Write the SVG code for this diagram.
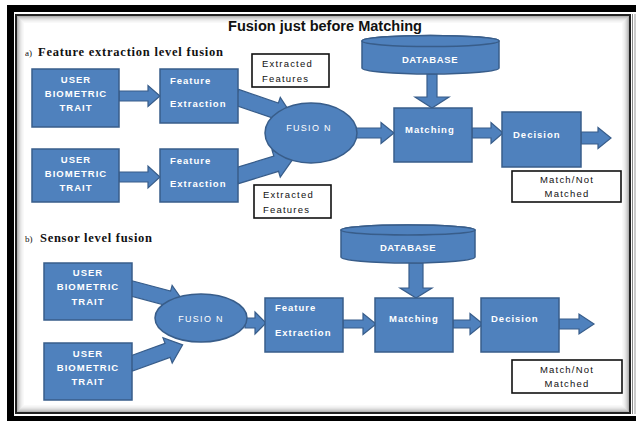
<svg xmlns="http://www.w3.org/2000/svg" width="636" height="421" viewBox="0 0 636 421">
  <defs>
    <style>
      .blk { fill: #4F81BD; stroke: #385D8A; stroke-width: 1.5; }
      .arr { fill: #4F81BD; stroke: #385D8A; stroke-width: 1.2; stroke-linejoin: miter; }
      .lbl { fill: none; stroke: #111; stroke-width: 1.6; }
      .wt { font-family: "Liberation Sans", Arial, sans-serif; font-weight: bold; font-size: 9.5px; fill: #fff; letter-spacing: 1px; }
      .wr { font-family: "Liberation Sans", Arial, sans-serif; font-size: 9px; fill: #fff; letter-spacing: 1.3px; }
      .bt { font-family: "Liberation Sans", Arial, sans-serif; font-size: 9.5px; fill: #111; letter-spacing: 1.2px; }
      .hd { font-family: "Liberation Serif", "Times New Roman", serif; font-weight: bold; font-size: 12.5px; fill: #111; }
      .sm { font-family: "Liberation Serif", "Times New Roman", serif; font-size: 9px; fill: #111; }
      .ti { font-family: "Liberation Sans", Arial, sans-serif; font-weight: bold; font-size: 14px; fill: #111; }
      .c { text-anchor: middle; }
    </style>
  </defs>

  <!-- page and picture frame -->
  <rect x="0" y="0" width="636" height="421" fill="#fff"/>
  <rect x="7" y="5" width="629" height="7" fill="#000"/>
  <rect x="7" y="5" width="7" height="416" fill="#000"/>
  <rect x="7" y="416" width="629" height="5" fill="#000"/>
  <g fill="none" stroke="#000">
    <rect x="632" y="14" width="1" height="400" stroke="none" fill="#888"/>
    <rect x="634" y="14" width="2" height="400" stroke="none" fill="#ccc"/>
  </g>
  <!-- inner soft edge of the frame -->
  <g fill="none" stroke="#000" stroke-width="1">
    <rect x="17.5" y="16.5" width="611" height="395" opacity="0.30"/>
    <rect x="18.5" y="17.5" width="609" height="393" opacity="0.22"/>
    <rect x="19.5" y="18.5" width="607" height="391" opacity="0.16"/>
    <rect x="20.5" y="19.5" width="605" height="389" opacity="0.11"/>
    <rect x="21.5" y="20.5" width="603" height="387" opacity="0.07"/>
    <rect x="22.5" y="21.5" width="601" height="385" opacity="0.045"/>
    <rect x="23.5" y="22.5" width="599" height="383" opacity="0.025"/>
  </g>
  <rect x="16" y="15" width="614" height="398" fill="none" stroke="#222" stroke-width="2"/>

  <!-- headings -->
  <text class="ti" x="228" y="31" textLength="194" lengthAdjust="spacingAndGlyphs">Fusion just before Matching</text>
  <text class="sm" x="25" y="56">a)</text>
  <text class="hd" x="38" y="56" textLength="185" lengthAdjust="spacing">Feature extraction level fusion</text>
  <text class="sm" x="25" y="242">b)</text>
  <text class="hd" x="40" y="242" textLength="112" lengthAdjust="spacing">Sensor level fusion</text>

  <!-- connectors -->
  <g id="connectors">
    <!-- a) feature extraction level fusion -->
    <polygon class="arr" points="119,91 148,91 148,85.5 160,96 148,106.5 148,101 119,101"/>
    <polygon class="arr" points="119,172 148,172 148,166 160,177 148,188 148,182 119,182"/>
    <polygon class="arr" transform="translate(236,97) rotate(19)" points="0,-8 42,-8 42,-14 60,0 42,14 42,8 0,8"/>
    <polygon class="arr" transform="translate(236,176) rotate(-17)" points="0,-8 42,-8 42,-14 60,0 42,14 42,8 0,8"/>
    <polygon class="arr" points="356,128 381,128 381,122.5 394,133 381,143.5 381,138 356,138"/>
    <polygon class="arr" points="427,74 437,74 437,97 449,97 432,108 415,97 427,97"/>
    <polygon class="arr" points="472,128 491,128 491,122.5 503,133 491,143.5 491,138 472,138"/>
    <polygon class="arr" points="581,132 598,132 598,127.5 611,138 598,148.5 598,144 581,144"/>

    <!-- b) sensor level fusion -->
    <polygon class="arr" transform="translate(130,288) rotate(15)" points="0,-7.5 40,-7.5 40,-13.5 56,0 40,13.5 40,7.5 0,7.5"/>
    <polygon class="arr" transform="translate(130,364) rotate(-20)" points="0,-7.5 40,-7.5 40,-13.5 56,0 40,13.5 40,7.5 0,7.5"/>
    <polygon class="arr" points="245,318 255,318 255,312 266,323 255,334 255,328 245,328"/>
    <polygon class="arr" points="343,320 363,320 363,313.5 376,324 363,334.5 363,328 343,328"/>
    <polygon class="arr" points="409,263 423,263 423,288 432,288 416,298 400,288 409,288"/>
    <polygon class="arr" points="453,320 470,320 470,313.5 483,324 470,334.5 470,328 453,328"/>
    <polygon class="arr" points="559,319 579,319 579,314 594,324 579,334 579,329 559,329"/>
  </g>

  <!-- a) nodes -->
  <g id="user-a1">
    <rect class="blk" x="32" y="69" width="87" height="58"/>
    <text class="wt c" x="76" y="83">USER</text>
    <text class="wt c" x="76" y="97">BIOMETRIC</text>
    <text class="wt c" x="76" y="111">TRAIT</text>
  </g>
  <g id="user-a2">
    <rect class="blk" x="32" y="149" width="87" height="53"/>
    <text class="wt c" x="76" y="163">USER</text>
    <text class="wt c" x="76" y="177">BIOMETRIC</text>
    <text class="wt c" x="76" y="191">TRAIT</text>
  </g>
  <g id="feature-a1">
    <rect class="blk" x="160" y="69" width="78" height="54"/>
    <text class="wt" x="170" y="84">Feature</text>
    <text class="wt" x="170" y="107">Extraction</text>
  </g>
  <g id="feature-a2">
    <rect class="blk" x="160" y="149" width="78" height="53"/>
    <text class="wt" x="170" y="164">Feature</text>
    <text class="wt" x="170" y="187">Extraction</text>
  </g>
  <g id="extracted-a1">
    <rect class="lbl" x="252" y="54" width="77" height="33"/>
    <text class="bt" x="262" y="67">Extracted</text>
    <text class="bt" x="262" y="82">Features</text>
  </g>
  <g id="extracted-a2">
    <rect class="lbl" x="254" y="185" width="77" height="33"/>
    <text class="bt" x="263" y="198">Extracted</text>
    <text class="bt" x="263" y="213">Features</text>
  </g>
  <g id="fusion-a">
    <ellipse class="blk" cx="311" cy="133" rx="46" ry="30"/>
    <text class="wr c" x="309" y="131">FUSIO N</text>
  </g>
  <g id="database-a">
    <path class="blk" d="M362,41 A68.5,5.5 0 0 1 499,41 L499,68 A68.5,6 0 0 1 362,68 Z"/>
    <ellipse class="blk" cx="430.5" cy="41" rx="68.5" ry="5.5"/>
    <text class="wt c" x="430" y="63" style="letter-spacing:0.6px">DATABASE</text>
  </g>
  <g id="matching-a">
    <rect class="blk" x="394" y="108" width="78" height="54"/>
    <text class="wt" x="405" y="133">Matching</text>
  </g>
  <g id="decision-a">
    <rect class="blk" x="502" y="112" width="79" height="55"/>
    <text class="wt" x="513" y="138">Decision</text>
  </g>
  <g id="result-a">
    <rect class="lbl" x="512" y="171" width="109" height="31" stroke-width="2"/>
    <text class="bt c" x="567" y="183">Match/Not</text>
    <text class="bt c" x="567" y="197">Matched</text>
  </g>

  <!-- b) nodes -->
  <g id="user-b1">
    <rect class="blk" x="44" y="263" width="88" height="57"/>
    <text class="wt c" x="88" y="276">USER</text>
    <text class="wt c" x="88" y="290">BIOMETRIC</text>
    <text class="wt c" x="88" y="305">TRAIT</text>
  </g>
  <g id="user-b2">
    <rect class="blk" x="44" y="343" width="88" height="57"/>
    <text class="wt c" x="88" y="357">USER</text>
    <text class="wt c" x="88" y="371">BIOMETRIC</text>
    <text class="wt c" x="88" y="385">TRAIT</text>
  </g>
  <g id="fusion-b">
    <ellipse class="blk" cx="201" cy="318" rx="46" ry="24"/>
    <text class="wr c" x="201" y="322">FUSIO N</text>
  </g>
  <g id="feature-b">
    <rect class="blk" x="265" y="298" width="78" height="54"/>
    <text class="wt" x="275" y="311">Feature</text>
    <text class="wt" x="275" y="336">Extraction</text>
  </g>
  <g id="database-b">
    <path class="blk" d="M341,230 A67,5 0 0 1 475,230 L475,257 A67,6 0 0 1 341,257 Z"/>
    <ellipse class="blk" cx="408" cy="230" rx="67" ry="5"/>
    <text class="wt c" x="408" y="251" style="letter-spacing:0.6px">DATABASE</text>
  </g>
  <g id="matching-b">
    <rect class="blk" x="375" y="298" width="78" height="54"/>
    <text class="wt" x="389" y="322">Matching</text>
  </g>
  <g id="decision-b">
    <rect class="blk" x="481" y="298" width="78" height="54"/>
    <text class="wt" x="491" y="322">Decision</text>
  </g>
  <g id="result-b">
    <rect class="lbl" x="512" y="360" width="110" height="33" stroke-width="2"/>
    <text class="bt c" x="567" y="373">Match/Not</text>
    <text class="bt c" x="567" y="387">Matched</text>
  </g>
</svg>
